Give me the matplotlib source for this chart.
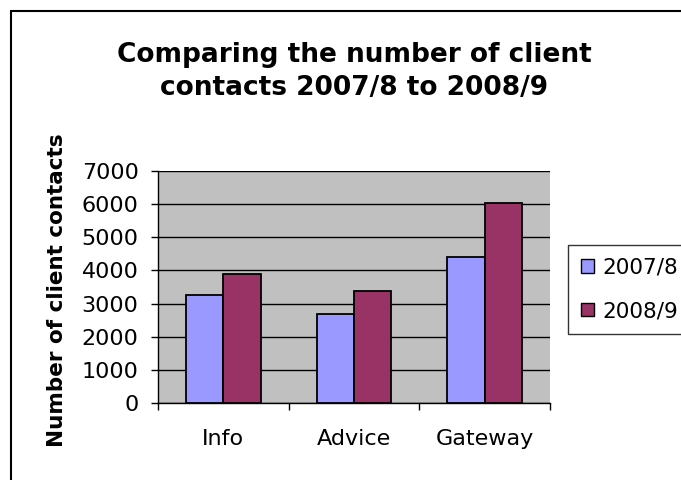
import numpy as np
import matplotlib.pyplot as plt
from matplotlib.patches import Rectangle

categories = ['Info', 'Advice', 'Gateway']
series = ['2007/8', '2008/9']
v_2007 = [3250, 2700, 4400]
v_2008 = [3900, 3380, 6030]
colors = ['#9999FF', '#993366']

# the source text is a wide Arial; DejaVu Sans is closest in proportions
plt.rcParams['font.family'] = ['DejaVu Sans']

fig = plt.figure(figsize=(6.81, 4.80), dpi=100)
ax = fig.add_axes([158 / 681, 77 / 480, 392 / 681, 232 / 480])
ax.set_facecolor('#C0C0C0')

x = np.arange(len(categories))
w = 0.286
ax.bar(x - w / 2, v_2007, w, color=colors[0], edgecolor='black', linewidth=1.3,
       label=series[0], zorder=3)
ax.bar(x + w / 2, v_2008, w, color=colors[1], edgecolor='black', linewidth=1.3,
       label=series[1], zorder=3)

ax.set_xlim(-0.5, 2.5)
ax.set_ylim(0, 7000)
ax.set_yticks(np.arange(0, 7001, 1000))
ax.yaxis.grid(True, color='black', linewidth=1)
ax.set_axisbelow(True)

ax.set_xticks(x)
ax.set_xticklabels(categories)
ax.set_xticks(np.arange(-0.5, 3, 1), minor=True)
ax.tick_params(axis='x', which='major', length=0, pad=19, labelsize=16)
ax.tick_params(axis='x', which='minor', length=5, width=1, direction='out')
ax.tick_params(axis='y', length=5, width=1, direction='out', pad=9, labelsize=16)

for s in ['top', 'right']:
    ax.spines[s].set_visible(False)
for s in ['left', 'bottom']:
    ax.spines[s].set_color('black')
    ax.spines[s].set_linewidth(1)

ax.set_ylabel('Number of client contacts', fontsize=15.5, fontweight='bold')
ax.yaxis.set_label_coords(-91 / 392, 113 / 232)

fig.text(354 / 681, 1 - 62 / 480, 'Comparing the number of client',
         ha='center', va='baseline', fontsize=19, fontweight='bold')
fig.text(354 / 681, 1 - 95 / 480, 'contacts 2007/8 to 2008/9',
         ha='center', va='baseline', fontsize=19, fontweight='bold')

# legend sits against the right edge; frame runs off, labels stay inside
leg = fig.legend(loc='upper left', bbox_to_anchor=(568 / 681, 1 - 245 / 480),
                 fontsize=15.5, frameon=True, fancybox=False, handlelength=0.6,
                 handleheight=0.6, handletextpad=0.4, labelspacing=1.08,
                 borderpad=0.6, borderaxespad=0)
leg.get_frame().set_edgecolor('black')
leg.get_frame().set_linewidth(1)
for h in leg.legend_handles:
    h.set_linewidth(1)

fig.patches.append(Rectangle((11 / 681, -0.1), 1.2, 1.1 - 11 / 480,
                             transform=fig.transFigure, fill=False,
                             edgecolor='black', linewidth=1.5))

fig.savefig('out.png', dpi=100)
